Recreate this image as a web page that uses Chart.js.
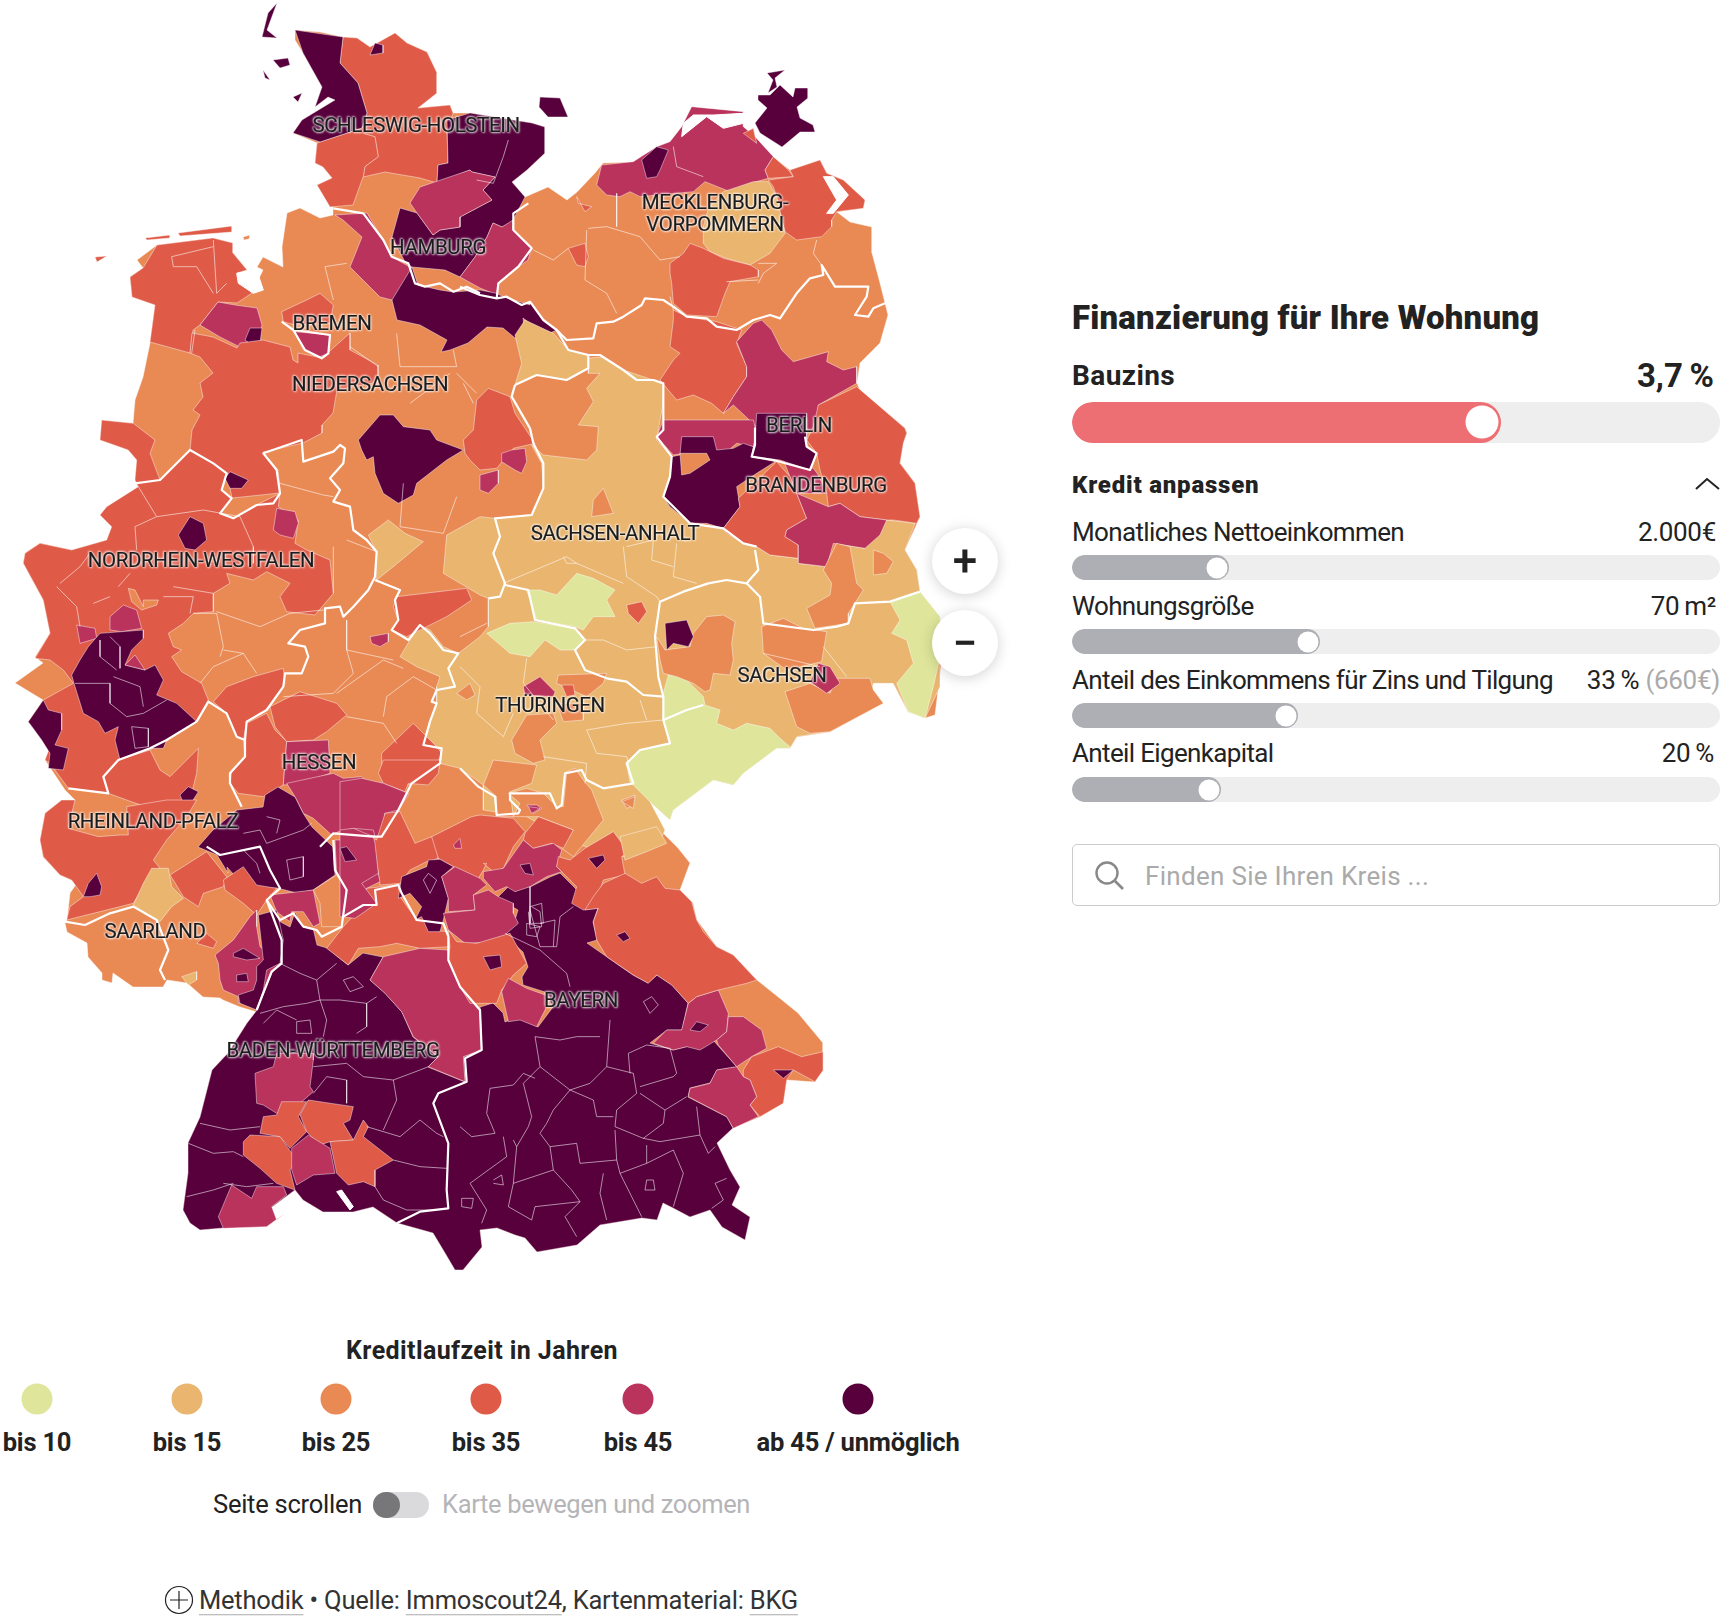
<!DOCTYPE html>
<html lang="de">
<head>
<meta charset="utf-8">
<title>Finanzierung für Ihre Wohnung</title>
<script src="https://cdn.jsdelivr.net/npm/chart.js@4"></script>
<style>
  html, body { margin: 0; padding: 0; background: #fff; }
  body { position: relative; width: 1724px; height: 1621px; overflow: hidden; font-family: Roboto, sans-serif; color: #222; }
  #mapBox { position: absolute; left: 0; top: 0; width: 950px; height: 1290px; }
  .t { position: absolute; white-space: nowrap; line-height: 1; transform: translateY(-50%); }
  .c { transform: translate(-50%, -50%); }
  .r { transform: translate(-100%, -50%); }
  .state { font-size: 20.5px; letter-spacing: -.4px; color: #1c1c1c; -webkit-text-stroke: .2px #1c1c1c; text-shadow: 0 0 2px rgba(255,255,255,.9), 0 0 3px rgba(255,255,255,.75), 1px 1px 2px rgba(255,255,255,.55), -1px -1px 2px rgba(255,255,255,.55); }
  .track { position: absolute; left: 1072px; width: 648px; background: #eee; border-radius: 14px; overflow: hidden; }
  .fill { position: absolute; left: 0; top: 0; bottom: 0; border-radius: 14px; }
  .knob { position: absolute; background: #fff; border-radius: 50%; transform: translate(-50%, -50%); }
  .dot { position: absolute; width: 31px; height: 31px; border-radius: 50%; transform: translate(-50%, -50%); }
  .zoomBtn { position: absolute; width: 66px; height: 66px; border-radius: 50%; background: #fff; box-shadow: 0 2px 14px rgba(0,0,0,.18); transform: translate(-50%, -50%); text-align: center; font-size: 44px; line-height: 66px; font-weight: 500; color: #222; }
  u { text-decoration-color: #aaa; text-underline-offset: 5px; text-decoration-thickness: 1px; }
</style>
</head>
<body>
<div id="mapBox"><canvas id="map"></canvas></div>
<div id="ui"></div>
<script>
// Legend classes
const classLabels = ['bis 10', 'bis 15', 'bis 25', 'bis 35', 'bis 45', 'ab 45 / unmöglich'];
const classColors = ['#DFE69B', '#E9B56F', '#E98A55', '#DF5B48', '#BA335C', '#57003C'];

// Map outlines. Each tracing sheet has its own origin and scale.
const sheets = {
  O: [0, 0, 1], A: [0, 0, 3], B: [460, 0, 3], C: [0, 420, 3], D: [460, 420, 3],
  E: [100, 840, 3], F: [460, 840, 3], I: [0, 780, 3], J: [340, 760, 3]
};

const mainland = [295,30,320,32,343,37,357,38,370,47,395,33,407,43,427,52,437,73,437,93,418,108,450,105,453,113,470,113,532,123,545,127,545,153,527,170,512,182,525,197,548,187,567,200,577,192,595,173,603,163,633,162,657,147,670,142,682,127,692,107,713,112,743,112,743,127,755,137,773,157,790,170,820,160,827,173,843,180,865,200,863,208,837,212,850,222,872,227,872,253,880,283,888,315,880,343,860,363,857,383,860,390,880,407,905,428,907,433,903,443,900,463,915,483,920,517,905,550,917,570,920,592,940,617,943,650,935,715,925,718,908,712,893,683,873,683,873,690,883,703,830,732,797,737,790,748,777,748,743,773,733,785,713,780,673,810,670,820,650,802,660,830,678,848,690,863,680,890,693,903,697,920,717,947,733,955,757,980,782,1000,798,1013,823,1043,823,1070,815,1082,787,1080,783,1103,760,1117,733,1128,717,1143,730,1170,740,1187,732,1205,750,1217,745,1240,722,1227,710,1210,690,1217,673,1208,663,1203,657,1220,642,1218,600,1225,577,1245,537,1252,525,1238,515,1235,497,1228,480,1230,482,1247,463,1270,455,1270,445,1253,433,1233,397,1223,373,1207,353,1212,323,1212,303,1200,295,1190,272,1207,267,1225,223,1228,200,1230,190,1223,183,1210,188,1173,188,1143,200,1117,212,1070,228,1053,247,1023,257,1012,240,1007,223,1000,220,998,203,997,187,983,167,980,163,987,133,987,113,973,112,983,102,980,102,973,88,957,87,943,67,932,65,923,67,920,70,893,77,883,60,875,43,857,40,840,45,813,62,800,75,800,65,790,45,760,50,747,28,722,43,700,15,683,43,663,35,657,50,633,43,600,23,563,25,553,40,543,72,550,107,540,112,527,100,515,107,507,138,487,135,480,137,460,128,450,100,440,102,422,133,423,135,400,143,377,150,343,155,305,132,297,130,277,143,268,137,260,157,245,213,238,233,243,233,253,247,270,237,273,252,293,263,270,257,267,263,257,283,267,282,247,287,213,300,208,320,218,333,215,333,207,317,185,332,178,323,167,315,163,317,143,293,133,302,120,335,100,328,97,315,107,322,87,303,53,295,40];

const eastFrisia = [143,268,157,245,213,238,233,243,233,253,247,270,237,273,252,293,237,303,218,302,200,325,193,330,190,353,150,342,155,305,132,297,130,277];
const cloppenburg = [218,302,235,305,257,308,262,325,260,333,240,347,220,337,200,325];
const vechta = [245,340,250,328,262,328,260,343,252,345];
const osnabrueck = [192,333,213,337,237,348,240,343,263,340,290,347,293,360,298,363,298,353,322,358,350,333,350,350,378,365,378,382,337,390,333,413,322,425,322,433,303,443,263,452,278,470,280,493,232,498,227,473,213,463,190,450,192,430,200,415,193,410,203,397,200,383,213,373,200,357,190,353];
const bremenRing = [845,935,920,900,960,880,1000,915,990,970,885,975,850,965];
const delmenhorst = [885,995,990,1005,985,1060,960,1070,910,1050];
const stade = [335,215,367,213,383,240,392,257,410,267,413,283,392,300,380,297,360,277,350,267,362,237,343,220];
const harburg = [412,267,418,285,440,290,453,292,480,290,495,293,507,298,530,305,530,302,543,320,557,330,545,335,523,318,525,335,515,338,503,328,487,327,468,343,450,350,441,352,447,340,420,325,397,320,392,300];
const nordfriesland = [295,30,343,37,340,63,358,83,367,113,362,128,320,142,293,133,302,120,335,100,328,97,315,107,322,87,303,53];
const schleswig = [343,37,357,38,370,47,395,33,407,43,427,52,437,73,437,93,418,108,450,105,453,113,447,133,448,163,438,165,437,183,420,178,385,172,363,177,353,205,330,207,317,185,332,178,323,167,315,163,317,143,362,128,367,113,358,83,340,63];
const flensburg = [370,55,375,43,383,45,383,53];
const holstein = [392,237,400,208,417,213,433,235,440,230,460,227,460,217,492,200,483,190,495,177,472,172,470,170,437,183,438,165,448,163,447,120,470,113,532,123,545,127,545,153,527,170,512,182,525,197,512,222,502,227,493,223,487,237,475,257,460,277,445,270,412,267,405,262];
const stormarn = [420,187,470,170,472,172,495,177,483,190,492,200,460,217,460,227,440,230,433,235,417,213,410,203];
const lauenburg = [513,220,513,230,532,247,528,260,518,267,498,283,497,295,480,288,460,277,475,257,487,237,493,223,502,227];
const syltIsland = [277,3,268,13,262,37,277,38,267,30];
const foehrIsland = [273,60,288,58,290,65,280,68];
const amrumIsland = [263,70,270,80,265,78];
const pellworm = [293,97,302,93,298,102];
const fehmarn = [540,97,560,98,568,117,548,117,539,107];
const ruegenNorth = [785,70,767,73,773,80,768,93,777,87,775,78];
const ruegen = [758,95,770,95,780,85,793,97,795,88,808,88,808,98,797,107,800,118,813,125,815,132,800,132,782,147,760,133,755,123,767,108,758,100];
const frisianA = [95,257,107,256,97,262];
const frisianB = [145,238,170,235,170,238,147,240];
const frisianC = [178,233,232,226,232,232,180,236];
const frisianD = [243,237,250,235,249,239,244,240];

// North east
const mvNorth = [410,555,425,495,520,485,590,440,630,425,665,380,695,320,850,335,850,380,885,410,940,470,915,510,925,535,870,550,810,575,735,545,700,575,540,590,510,575,480,590,440,585];
const rostock = [545,480,590,440,625,450,600,510,590,530,560,535];
const stralsund = [850,400,880,385,890,430];
const greifswald = [915,510,940,470,985,510,1000,530,925,535];
const vorpommern = [925,540,1000,530,990,510,1080,480,1100,520,1150,540,1215,600,1210,625,1130,635,1115,660,1115,680,1085,710,1010,720,975,695,960,640,950,590,940,560];
const seenplatte = [790,575,880,545,925,545,950,590,975,700,930,760,870,795,800,775,750,755,730,730,730,680,745,625];
const schwerinCity = [350,590,355,610,395,620,375,635];
const ludwigslust = [325,745,375,730,385,770,375,800,350,795];
const prignitzEast = [630,790,670,760,690,730,730,745,790,775,870,795,895,810,895,830,810,845,795,880,770,950,680,945,640,910,635,850,630,820];
const havelland = [640,930,680,950,770,965,845,990,830,1030,860,1100,860,1130,820,1190,790,1240,755,1210,700,1185,650,1200,600,1140,640,1080,660,1060,630,1040,640,960];
const uckermark = [830,1025,880,970,905,960,935,990,965,1050,1000,1085,1105,1055,1100,1085,1150,1110,1190,1100,1190,1150,1075,1215,1070,1290,900,1290,820,1215,790,1240,820,1190,860,1130,860,1100];
const potsdamPink = [590,50,610,0,880,0,890,40,880,80,830,70,800,95,670,100,640,105];
const altmarkDark = [665,50,760,50,770,90,820,85,850,70,880,80,875,110,945,125,890,160,830,200,840,260,790,325,740,310,690,310,630,260,610,230,630,170,635,110,660,105];
const brandenburgCity = [660,100,740,100,750,120,690,160,665,165];
const berlin = [890,-20,1040,-20,1040,80,1070,100,1050,150,960,120,875,110,885,60];
const spreeNorth = [970,120,1060,145,1075,165,1100,220,1010,220,990,170];
const spreeWald = [1010,220,1105,260,1140,250,1200,290,1280,300,1260,345,1215,385,1120,370,1100,440,1015,430,1015,375,975,350,980,330,1040,295];
const teltow = [790,325,840,260,835,235,950,125,990,170,1010,220,1040,295,980,330,975,350,1015,375,1015,415,930,405,890,380,850,370,800,340];
const oderSpree = [1075,-45,1190,-100,1260,-40,1335,25,1340,40,1330,70,1320,130,1365,190,1380,290,1370,310,1300,300,1280,300,1200,290,1140,250,1105,260,1100,220,1080,150,1070,100,1040,60,1060,20];

// Central belt
const centralBelt = [215,75,245,130,250,205,215,285,105,295,60,290,-40,345,-50,460,60,525,85,535,85,620,60,650,-5,700,-50,680,-90,630,-120,615,-150,660,-180,710,-130,740,-60,770,-70,800,-70,850,-90,900,-110,975,-55,985,-60,1030,0,1045,70,1095,70,1170,200,1190,340,1270,490,1310,600,1265,615,1230,570,1145,640,1170,760,1080,820,1095,850,1060,950,985,990,985,1010,950,1110,935,1270,850,1235,810,1240,790,1300,790,1345,875,1395,895,1440,800,1440,590,1380,515,1370,450,1335,390,1365,310,1280,300,1215,385,1130,370,1100,440,1015,430,1015,415,930,405,890,380,850,370,790,325,690,310,610,230,630,170,635,110,590,60,600,0,610,-50,610,-110,580,-120,490,-150,425,-190,385,-185,385,-140,420,-140,380,-95,400,-55,355,15,415,20,410,90,380,120,250,105];
const gifhorn = [165,1005,195,960,280,1000,325,1050,385,1065,385,1105,320,1140,230,1125,165,1155,185,1090];
const boerdeOrange = [400,240,430,205,460,280,395,290];
const eichsfeldYellow = [1105,345,1165,300,1215,340,1270,365,1180,440,1130,480,1130,395];
const anhaltGreen = [200,510,240,510,290,525,350,460,400,475,465,510,440,540,465,590,400,590,370,630,345,620,230,600,220,570];
const kyffGreen = [80,640,150,610,220,605,345,625,375,660,345,690,300,690,255,660,210,710,150,700];
const erzGreen = [625,765,670,770,730,830,735,855,780,870,770,910,820,930,860,910,930,925,960,955,995,985,950,985,850,1060,820,1095,760,1080,640,1170,630,1200,570,1145,510,1085,500,1030,540,990,630,970,610,900,610,820];
const goerlitzGreen = [1290,545,1330,530,1380,515,1440,590,1445,690,1420,800,1395,895,1345,875,1310,790,1360,730,1340,660,1295,640,1320,600];
const leipzig = [590,650,615,690,690,680,700,640,740,590,790,585,825,605,815,670,820,720,810,765,760,760,750,810,735,815,700,790,650,770,610,760,600,720];
const leipzigCity = [615,610,680,600,700,650,685,680,640,670,620,690];
const halle = [500,555,545,545,560,575,535,610,505,580];
const meissen = [905,620,970,595,1030,625,1100,635,1085,725,980,750,910,700];
const pirna = [975,815,1050,790,1110,820,1130,775,1230,775,1240,810,1270,850,1110,935,1050,940,1010,920];
const dresden = [1075,730,1110,740,1140,790,1100,820,1050,785];
const elbeElster = [1090,450,1130,370,1170,380,1190,490,1210,510,1165,580,1165,610,1065,625,1040,565,1110,525,1115,490];
const cottbus = [1240,390,1270,400,1300,425,1280,460,1240,465];
const eichsfeldDot = [-10,820,30,790,45,825,20,840];
const saalfeld = [155,960,200,885,280,880,290,910,240,960,255,1020,220,1030,165,1000];
const erfurt = [190,800,240,770,285,815,280,830,195,825];
const weimar = [295,765,440,760,430,790,380,830,290,790];
const jena = [305,795,340,795,345,825,320,830];
const jenaSouth = [290,850,370,850,370,900,310,905];
const suhlPink = [205,1160,240,1165,215,1180];
const plauenOrange = [485,1145,525,1130,520,1165];

// Hesse, Thuringia south, Franconia north
const rhoenOrange = [430,75,460,0,590,15,575,70,510,95,520,170,470,170,470,110];
const kronach = [520,170,540,130,505,100,560,85,610,100,650,140,670,140,680,35,705,25,730,60,755,90,790,180,700,290,665,265,700,210,595,170];
const coburgPink = [560,135,590,135,605,145,580,160];
const hofOrange = [845,120,885,105,880,135,860,145];
const fulda = [115,40,130,0,300,0,295,40,265,75,205,70,195,95,130,70];
const hessenPink = [0,65,65,55,130,70,205,100,175,150,135,160,135,225,105,230,100,210,40,205,0,215];
const mainSpessart = [110,240,135,160,180,155,225,250,275,230,295,255,295,295,260,305,210,330,180,370,120,375,100,235];
const hassberge = [275,230,395,170,420,165,520,175,555,215,520,260,490,325,460,335,430,310,440,310,430,330,415,355,340,320,295,295];
const badKissingenHole = [340,255,360,235,365,265,345,265];
const lichtenfels = [555,220,595,170,700,210,670,265,635,250,580,265,550,240];
const bambergPink = [430,335,490,325,550,240,580,265,640,250,665,270,650,320,665,335,620,350,570,380,525,395,500,380,465,395,430,355];
const bambergCity = [540,315,570,310,580,345,555,340];
const bayreuth = [655,290,690,300,735,265,820,215,865,275,845,290,855,345,790,360,780,390,770,445,730,450,695,430,710,380,670,340,650,320];
const bayreuthCity = [745,295,790,285,795,300,770,325];
const wuerzburg = [175,415,185,350,260,320,265,300,300,298,340,320,305,350,325,415,310,480,300,515,265,515,245,470,225,480,245,440,210,400];
const schweinfurtPink = [305,350,345,320,420,355,440,375,400,405,405,450,325,455,325,415];
const steigerwald = [310,460,405,450,400,405,445,390,475,410,520,430,520,460,535,490,500,520,495,545,375,550,325,510];
const rhoenDark = [0,265,20,260,50,300,15,305];
const darmstadtPink = [0,210,40,205,100,230,105,250,115,340,65,370,110,430,45,475,0,470];

// Rhineland
const rheinland = [305,0,400,10,465,60,450,100,480,180,570,90,640,130,680,160,665,210,695,235,660,280,700,295,770,255,840,220,835,260,895,300,885,370,920,390,990,420,1000,520,945,585,860,575,840,530,870,490,800,455,760,480,680,460,690,490,640,520,640,575,580,580,550,610,505,640,520,680,545,690,515,710,545,755,605,790,625,840,590,905,500,960,450,990,355,1020,310,1070,325,1120,205,1105,150,1030,135,1020,150,980,85,905,130,840,220,790,190,750,150,720,105,715,150,640,130,540,70,430,75,400,120,370,215,390,320,360,335,320,300,285,320,260,415,200,405,180,410,120,385,90,300,60];
const ruhrOrange = [385,505,405,510,430,560,430,540,475,540,470,555,425,570,395,545];
const koeln = [300,640,430,630,430,655,395,690,375,735,435,750,465,735,490,780,470,825,530,850,590,905,500,960,490,985,450,985,360,1020,345,960,355,920,315,940,295,905,250,880,225,800,215,765,240,720,265,680];
const neussPink = [230,615,285,625,290,655,240,670];
const duesseldorfPink = [330,590,370,555,410,570,425,625,365,635,330,630];
const bonnPink = [375,735,405,705,435,750];
const trier = [85,905,130,840,145,870,185,880,185,930,165,975,205,985,190,1050,145,1045,150,1000,125,960];
const bielefeldDark = [675,175,690,155,745,180,725,205,690,205];
const muensterDark = [535,345,570,290,610,310,620,360,585,390,555,385];
const guetersloh = [830,265,885,275,895,310,880,355,840,345,820,330];
const hildesheimDark = [1075,60,1140,-15,1180,-15,1210,20,1290,30,1310,60,1390,90,1340,120,1250,190,1240,225,1195,250,1150,220,1125,160,1120,110,1100,120,1085,90];
const goslar = [1190,530,1400,505,1415,540,1340,590,1280,620,1220,650,1175,630,1195,600,1180,560];
const kasselPink = [1110,650,1165,640,1165,665,1140,680,1115,670];
const siegen = [680,800,760,770,850,745,855,790,800,870,740,905,735,960,710,950,680,880,640,845];
const vogelsberg = [810,860,900,815,1010,850,1040,885,980,935,940,960,860,965,825,920];
const giessen = [730,960,740,910,800,880,825,930,860,965,850,1095,790,1130,715,1120,690,1090,695,1050,735,1010];
const wetterauPink = [860,965,985,960,990,1060,900,1090,850,1095];
const mainKinzig = [860,1090,1000,1060,1030,1075,1085,1070,1110,1105,1150,1085,1225,1125,1195,1170,1145,1250,1015,1235,995,1245,940,1195,910,1180,885,1130];
const eisenach = [1145,1000,1240,910,1310,980,1325,1000,1290,1080,1220,1095,1145,1050];
const ahrweilerRed = [355,1020,450,990,480,1050,510,1070,595,985,590,1060,575,1120,555,1160,490,1170,450,1165,380,1140,325,1120,310,1070];
const mainzDark = [540,1125,565,1100,595,1115,570,1155,550,1150];
const peine = [15,100,10,60,40,30,50,-60,85,-95,150,-70,165,-20,225,70,160,85,110,145,60,150,30,120];
const salzgitter = [125,100,155,90,195,85,200,125,185,160,165,150,125,125];
const wolfenbuettel = [60,165,115,150,115,190,85,220,60,210];

// Palatinate, Saarland
const eifelRed = [120,180,135,100,185,60,225,60,205,145,295,170,360,165,385,165,380,80,500,60,590,60,560,110,500,180,460,240,480,265,430,320,400,370,200,420,210,380,250,350,215,300,180,285,130,230];
const pfalzRed = [510,285,620,215,680,290,670,320,610,340,595,380,550,350,520,300];
const saarYellow = [455,265,505,265,515,320,550,355,515,380,480,425,400,375,430,310];
const bitburgDark = [250,350,265,310,290,280,305,320,300,345,270,350];
const saarRedDot = [590,490,620,460,650,485,640,505];
const saarYellowDot = [545,590,590,575,590,600,565,615];

// South
const southDark = [257,1010,272,972,280,963,282,940,277,920,290,927,295,912,303,927,313,928,317,945,327,948,348,965,363,953,383,957,370,980,385,993,402,1012,413,1037,438,1057,428,1067,465,1082,463,1057,482,1050,480,1007,493,1003,503,1013,505,1022,518,1017,538,1027,553,1007,545,992,523,985,522,977,528,967,523,952,510,940,505,933,515,920,518,910,497,898,510,885,530,887,550,877,560,873,577,890,575,903,598,908,593,922,597,940,587,943,607,957,633,975,648,983,657,975,672,985,688,1003,682,1030,667,1030,650,1043,673,1050,713,1040,737,1067,717,1070,710,1083,690,1088,688,1097,727,1117,733,1128,717,1143,730,1170,740,1187,732,1205,750,1217,745,1240,722,1227,710,1210,690,1217,673,1208,663,1203,657,1220,642,1218,600,1225,577,1245,537,1252,525,1238,515,1235,497,1228,480,1230,482,1247,463,1270,455,1270,445,1253,433,1233,397,1223,373,1207,353,1212,323,1212,303,1200,295,1190,272,1207,267,1225,223,1228,200,1230,190,1223,183,1210,188,1173,188,1143,200,1117,212,1070,228,1053,247,1023];
const rheinMainDark = [198,847,213,830,237,810,263,807,265,795,278,787,295,797,303,813,312,827,333,847,335,875,313,890,297,893,277,888,257,888,243,885,227,867,228,873,217,855];
const odenwaldRed = [370,120,430,80,470,135,530,145,500,180,470,225,430,190,375,150];
const odenwaldPink = [510,165,640,150,660,250,640,260,610,215,575,215,570,245,530,215];
const tauberOrange = [640,150,710,105,740,150,725,260,665,260,660,190];
const mosbachPink = [705,0,820,0,830,80,840,125,800,145,790,195,730,230,740,150,710,100];
const mosbachDark = [725,25,760,65,730,60];
const heilbronn = [800,145,895,135,900,170,950,240,970,225,985,270,1045,275,1050,320,960,325,890,310,840,320,775,325,745,375,680,325,730,260,790,195];
const ansbachPink = [810,420,850,350,960,325,1045,330,1080,440,1140,510,1145,630,1090,650,1095,725,985,680,1015,650,940,590,905,515,855,460];
const rastattPink = [345,345,400,300,450,230,470,210,470,260,480,320,540,370,515,400,490,460,415,490,415,470,370,450,360,420,355,370];
const karlsruheDark = [400,340,430,325,480,355,440,360,400,350];
const pforzheimDark = [410,405,440,400,445,425,410,425];
const rhineDark = [475,225,530,210,550,300,540,370,500,390,490,450,470,510,420,490,415,465,460,450,470,420,470,380,490,360];
const nuernbergRed = [1045,270,1070,305,1130,310,1230,280,1280,370,1240,405,1205,450,1190,490,1110,490,1080,440,1045,360,1050,320];
const nuernbergHole = [1150,350,1200,345,1205,380,1170,390];
const roth = [1205,455,1225,415,1280,445,1350,470,1335,510,1310,560,1260,540,1225,545];
const calwPink = [465,700,520,680,530,640,640,640,640,660,630,740,640,755,600,790,530,820,490,795,470,790];
const alb1 = [480,880,490,830,530,825,545,785,620,785,595,830,620,875,570,925,540,890];
const alb2 = [600,825,625,780,760,800,750,840,730,850,760,900,690,905,660,915,620,875];
const alb3 = [690,905,760,900,790,840,805,860,790,890,880,960,825,990,825,1040,790,1025,745,1035,710,1000];
const alb4 = [430,905,450,885,540,890,590,960,570,990,585,1050,530,1030,480,985,430,945];
const sigmaringenPink = [575,925,625,885,690,925,705,1000,640,1005,590,1035,575,990];
const konstanzPink = [355,1130,395,1035,455,1075,470,1040,550,1040,560,1065,515,1100,530,1140,555,1120,500,1160,370,1165];
const oberpfalzPink = [580,610,620,570,665,570,685,490,710,470,775,450,805,520,800,575,770,600,720,630,680,620,640,630];
const regensburgHole = [690,570,710,545,745,555,720,575];
const strauPink = [770,600,800,575,805,530,850,530,905,570,920,625,875,650,830,680,775,615];
const freyung = [850,690,875,650,955,620,1025,650,1090,635,1090,690,1065,725,1000,690,980,720,970,790,900,830,870,795,890,770,870,720,850,710];
const passauHole = [940,690,1000,690,970,715];
const rottalPink = [685,770,690,745,750,730,770,690,830,680,850,710,870,720,890,770,870,795,895,830,820,865,800,830];
const amberg = [430,130,495,100,545,130,590,110,615,145,660,150,695,185,710,240,730,275,770,320,820,345,890,420,860,430,775,450,710,470,685,490,635,435,590,405,565,430,520,405,440,350,410,300,400,245,415,205,375,210,400,170];
const ambergHole = [470,285,495,275,510,295,490,305];
const bayreuthNorth = [495,60,560,35,620,10,590,-40,480,-10];
const waterLagoon = [1090,530,1130,600,1100,640,1120,640,1165,585,1120,530];
const waterDarss = [670,370,665,410,740,350,790,385,850,370,850,340,760,345,700,345];
const lakeConstance = [710,1055,725,1050,760,1100,750,1110];
const waterJade = [710,820,770,810,790,870,760,880,715,850];

// Thin district lines
const districtLines = [
  ['E',540,370,600,400,650,420,710,370],['E',650,420,660,480,680,540,670,590],['E',660,480,720,480,800,490,830,470],['E',800,490,800,560,770,580],
  ['E',480,520,550,500,620,490,660,480],['E',640,680,740,670,790,710,880,720,960,690,985,680],['E',640,760,680,710,740,720,740,790],['E',880,720,890,780,850,870],
  ['E',800,860,900,890,960,840,1010,880,1030,890],['E',300,850,390,870,480,860],['E',265,910,340,940,400,935,430,950],['E',260,1070,340,1050,400,1030],
  ['E',370,1030,440,1040,520,1030],['E',825,1040,850,1080,920,1110,1010,1110],['E',880,960,960,980,1040,985],['E',730,420,760,410,790,440,750,455,730,420],['E',590,545,630,540,635,580,590,580,590,545],
  ['E',490,550,530,510,590,540],['E',970,120,985,100,1010,120,990,160,970,120],['E',560,60,610,50,610,110,570,120,560,60],['E',430,30,470,70,480,100],
  ['F',225,590,240,680,330,750,390,730,440,680,450,540],['F',225,590,300,600,350,590,420,590],['F',190,730,240,680],['F',190,730,215,830,205,860,170,920],
  ['F',90,745,80,820,105,880,35,890,0,860],['F',90,745,160,735,190,700,225,715],['F',330,750,280,810,260,850,240,880,270,920],['F',330,750,400,780,410,830,460,830],
  ['F',440,680,520,700,530,760,470,810,465,860,550,895,610,850,615,810,540,760],['F',505,640,560,615,630,625,650,700,640,710,540,740],['F',505,640,510,700],['F',615,810,680,770],
  ['F',550,895,600,905,720,885,710,800],['F',720,885,745,940,765,920],['F',270,920,350,910,360,970,470,960,480,1000,560,970,560,915],['F',470,960,465,870],
  ['F',270,920,280,990,160,1030,145,1100,215,1140],['F',160,900,170,920,160,1030],['F',280,990,335,1050,360,1085,315,1130,350,1190],['F',360,1085,225,1100,215,1140],
  ['F',430,1000,420,1060,440,1140],['F',480,1000,545,1130],['F',560,970,640,930,670,1000,640,1100],['F',800,1015,765,1030,790,1080,755,1105],['F',30,1030,80,1110,65,1150],
  ['F',30,1030,140,950,130,890],['F',210,210,240,320,290,320],['F',210,140,210,250],['F',290,320,300,230,340,200],['F',135,280,240,330,320,400,330,440],
  ['F',550,485,575,470,595,495,570,520,550,485],['F',560,1020,580,1020,585,1050,555,1050,560,1020],['F',100,1020,125,1005,130,1035,100,1030],['F',5,1075,40,1075,35,1105,5,1100,5,1075],
  ['F',215,200,240,215,245,260,210,265,205,215],['F',240,250,285,240,280,320],['J',570,440,605,430,610,490,570,490,570,440],['J',560,490,600,500,590,530,560,525,560,490],
  ['A',515,770,640,740],['A',515,770,520,800,590,800,640,880],['A',640,720,650,880,680,850],['A',575,1060,585,990],['A',1000,900,975,800,1040,790],['A',1050,1040,1135,1100],
  ['A',1190,1000,1200,1100,1370,1100,1360,1050],['A',1370,1120,1430,1180],['A',1230,1210,1350,1120],['A',1125,410,1135,470,1095,500,1090,530],['A',1090,400,1125,410],
  ['C',180,490,240,440,270,400],['C',355,500,390,460],['C',170,500,230,560,240,620],['C',280,550,330,530],['C',520,500,640,520],['C',490,530,580,530,570,580],
  ['C',580,580,650,580,670,680,660,710],['C',650,575,780,620,870,580,970,570],['C',670,690,730,700,770,760],['C',600,790,640,740,730,700],['C',1000,520,1000,380],['C',1040,360,1130,395],
  ['C',1040,890,1150,910,1190,970],['C',1010,820,1150,720,1210,745],['C',1150,890,1160,830,1240,770,1310,810],['C',1040,690,1060,760,1000,820,850,830],['C',1040,600,1040,690,1180,720],
  ['C',840,190,970,225,1000,230],['C',1210,190,1200,320,1330,340,1370,230],['C',415,200,470,290,405,320,410,390],['C',470,290,610,270],['C',610,270,720,290,760,380,760,430],
  ['C',300,660,300,710,350,750],['C',330,650,360,680,360,745],['C',340,770,420,800,430,860],['C',225,790,330,790,330,850,380,890,430,880,500,840],['C',395,920,445,925,445,980,405,985,395,920],
  ['C',730,1240,780,1230,800,1270,910,1230,935,1210],['C',800,1190,840,1200,830,1240],
  ['D',130,490,320,410,350,430,490,490],['D',490,380,500,470,590,530,600,545],['D',500,380,580,360],['D',640,470,710,490],['D',650,370,640,470],['D',0,650,80,610],
  ['D',375,660,430,660,500,690,590,680],['D',200,715,190,790,280,900],['D',50,880,130,950,160,880],['D',380,930,410,1000,500,1010,515,1080],['D',380,930,500,910,610,900],['D',540,840,560,900],
  ['D',250,1010,380,1030,375,1090],['D',0,740,60,800,50,880],['D',1090,680,1160,770],['D',910,700,1080,740],['D',580,360,575,420,640,440],['D',310,410,320,430,350,430],
  ['B',385,685,440,680,540,710,600,780,660,770],['B',470,580,470,680],['B',380,690,375,840,440,880,470,940],['B',640,930,630,890],['B',220,750,280,780,325,745],['B',895,790,950,790,910,820,895,850],
  ['B',800,845,895,840],['B',1085,795,1060,760,1070,720],['B',640,440,650,500,730,530],['B',10,1150,40,1210],['B',50,540,100,550,130,470,145,420]
];

// Thick state borders
const stateBorders = [
  ['C',405,190,480,180,570,90,640,130,680,160,665,210,695,235,660,280,700,295,770,255,820,250,840,220,830,150,790,100,905,60,910,125,1000,95,1020,75,1035,85,1030,130,990,175,1020,210,1000,245,1050,260,1060,330,1100,360,1130,395,1125,470,1105,510,1060,560,1030,590,1020,560,975,565,975,610,900,630,865,670,915,680,925,710,905,760,855,760,850,800,800,870,740,905,735,960,735,1010,690,1060,690,1090,725,1160],
  ['C',590,905,625,845,680,880,710,950,735,960],
  ['C',590,905,500,960,450,985,355,1020,310,1070,325,1120,205,1105],
  ['C',1125,480,1200,510,1185,540,1195,600,1175,630,1225,660,1260,615,1290,640,1330,690,1375,700,1345,745,1365,800,1310,810,1295,845,1310,850,1290,905,1270,975,1325,985,1320,1030,1235,1090,1195,1170,1145,1250,1120,1250,1000,1240,960,1280],
  ['A',1000,625,1090,640,1150,720,1175,770,1225,790,1245,850,1275,860,1320,850,1360,875,1400,860,1440,880],
  ['B',0,860,60,885,110,895,140,890,185,915,210,905,250,960,290,990,320,1020,400,1015,410,970,460,965,490,950,545,915,555,895,610,900,640,920,680,950,740,955,770,980,830,990,880,960,930,945,960,955,1010,880,1050,835,1090,825,1085,795,1125,860,1190,860,1225,860,1220,890,1185,945,1225,950,1240,925,1275,910],
  ['B',110,895,115,850,175,800,215,745,160,690,160,640,205,610],
  ['B',290,990,325,1050,385,1065,420,1065,490,1110,530,1140,580,1140,610,1150,610,1290,590,1310,635,1370,630,1430,610,1490,690,1570,790,1585,850,1630,890,1640],
  ['B',165,1155,230,1125,320,1140,385,1105,385,1065],
  ['B',165,1155,155,1190,210,1285],
  ['D',210,25,220,70,250,130,250,205,215,285,105,295,120,350,100,400,135,490,120,530,85,535],
  ['D',135,495,205,510,225,600,345,625,375,660,345,690,375,750,440,775,500,785,550,825,610,830,595,770,585,650,600,545,670,515,745,490,800,480,860,490,895,450,885,390],
  ['D',860,490,900,530,910,610,1060,630,1130,620,1165,610,1185,550,1290,545,1380,515],
  ['D',610,830,610,900,630,970,540,990,500,1030,520,1090,430,1105,380,1080,365,1050,315,1060,305,1155,290,1165,270,1120,150,1120,150,1140,180,1170,175,1180,110,1185,105,1130,55,1100,0,1045],
  ['D',610,900,680,870,730,855],
  ['D',885,25,885,75,875,110,940,120,1050,150,1070,100,1040,80,1035,50],
  ['E',320,20,360,45,480,20,510,90,540,145,500,180,540,240,580,220,610,260,650,270,665,290,725,260,740,150,705,90,700,0],
  ['E',730,230,790,195,830,195,825,150,895,135,905,160,950,240,1030,250,1045,290,1045,360,1080,440,1140,510,1145,630,1095,655,1100,725,1015,760,1000,790,1045,910,1040,1050,1045,1105,960,1115,890,1150],
  ['E',500,180,545,300,545,370,515,395,470,510],
  ['I',195,425,255,435,330,400,400,380,470,420,505,510,480,570,495,600],
  ['A',845,965,880,990,915,1050,965,1075,985,1060,990,1005,885,990]
];

// sheet, class index, outline; later rows lie on top of earlier ones
const regions = [
  ['O',2,mainland],
  ['O',3,eastFrisia],['O',4,cloppenburg],['O',5,vechta],['O',3,osnabrueck],['A',3,bremenRing],['A',4,delmenhorst],['O',4,stade],['O',3,schleswig],['O',5,nordfriesland],['O',5,flensburg],
  ['O',5,holstein],['O',4,stormarn],['O',4,lauenburg],['O',5,harburg],
  ['O',5,syltIsland],['O',5,foehrIsland],['O',5,amrumIsland],['O',5,pellworm],['O',5,fehmarn],['O',5,ruegenNorth],['O',5,ruegen],['O',3,frisianA],['O',3,frisianB],['O',3,frisianC],['O',2,frisianD],
  ['B',4,mvNorth],['B',5,rostock],['B',3,stralsund],['B',3,greifswald],['B',3,vorpommern],['B',1,seenplatte],['B',3,schwerinCity],['B',3,ludwigslust],['B',3,prignitzEast],['B',3,havelland],
  ['D',1,centralBelt],['B',1,gifhorn],['D',2,boerdeOrange],['C',1,eichsfeldYellow],
  ['B',4,uckermark],['D',4,potsdamPink],['D',3,oderSpree],['D',5,altmarkDark],['D',2,brandenburgCity],['D',4,spreeNorth],['D',3,teltow],['D',4,spreeWald],['D',5,berlin],
  ['D',0,anhaltGreen],['D',0,kyffGreen],['D',0,erzGreen],['D',0,goerlitzGreen],['D',2,leipzig],['D',5,leipzigCity],['D',3,halle],['D',2,meissen],['D',2,pirna],['D',4,dresden],['D',2,elbeElster],['D',2,cottbus],
  ['D',2,eichsfeldDot],['D',2,saalfeld],['D',4,erfurt],['D',2,weimar],['D',3,jena],['D',2,jenaSouth],
  ['C',3,rheinland],['C',2,ruhrOrange],['C',4,neussPink],['C',4,duesseldorfPink],['C',5,koeln],['C',4,bonnPink],['C',5,trier],['C',5,bielefeldDark],['C',5,muensterDark],['C',4,guetersloh],['C',5,hildesheimDark],
  ['C',3,goslar],['C',4,kasselPink],['C',3,siegen],['C',3,vogelsberg],['C',3,giessen],['C',4,wetterauPink],['C',4,mainKinzig],['C',3,eisenach],['C',3,ahrweilerRed],['C',5,mainzDark],['D',3,peine],['D',4,salzgitter],['D',4,wolfenbuettel],
  ['I',3,eifelRed],['I',3,pfalzRed],['I',1,saarYellow],['I',5,bitburgDark],['I',3,saarRedDot],['I',1,saarYellowDot],
  ['J',2,rhoenOrange],['J',2,kronach],['J',4,coburgPink],['J',2,hofOrange],['D',4,suhlPink],['D',2,plauenOrange],
  ['J',3,fulda],['J',4,hessenPink],['J',3,mainSpessart],['J',3,hassberge],['J',4,badKissingenHole],['J',3,lichtenfels],
  ['O',5,southDark],['O',5,rheinMainDark],['E',3,odenwaldRed],['E',4,odenwaldPink],['E',2,tauberOrange],['E',4,mosbachPink],['E',5,mosbachDark],['E',3,heilbronn],
  ['J',4,darmstadtPink],['J',5,rhoenDark],['J',4,bambergPink],['J',5,bambergCity],['J',3,bayreuth],['J',5,bayreuthCity],['J',5,wuerzburg],['J',4,schweinfurtPink],['J',4,steigerwald],
  ['E',4,ansbachPink],['E',4,rastattPink],['E',5,karlsruheDark],['E',5,pforzheimDark],['E',5,rhineDark],['E',3,nuernbergRed],['E',5,nuernbergHole],['E',4,roth],
  ['E',4,calwPink],['E',3,alb1],['E',3,alb2],['E',3,alb3],['E',3,alb4],['E',4,sigmaringenPink],['E',4,konstanzPink],
  ['F',4,oberpfalzPink],['F',5,regensburgHole],['F',4,strauPink],['F',3,freyung],['F',5,passauHole],['F',4,rottalPink],['F',3,amberg],['F',5,ambergHole],['F',1,bayreuthNorth]
];
const waterShapes = [['B',waterLagoon],['B',waterDarss],['E',lakeConstance],['A',waterJade]];

function toPoints(sheet, flat) {
  const [ox, oy, k] = sheets[sheet];
  const points = [];
  for (let i = 0; i < flat.length; i += 2) {
    points.push({x: ox + flat[i] / k, y: oy + flat[i + 1] / k});
  }
  return points;
}

let datasets = [];
regions.forEach(function (r) {
  const points = toPoints(r[0], r[2]);
  points.push(points[0]);
  datasets.push({data: points, fill: 'shape', backgroundColor: classColors[r[1]], borderColor: 'rgba(255,255,255,0.55)', borderWidth: 0.8});
});
waterShapes.forEach(function (w) {
  const points = toPoints(w[0], w[1]);
  points.push(points[0]);
  datasets.push({data: points, fill: 'shape', backgroundColor: '#fff', borderColor: '#fff', borderWidth: 1});
});
districtLines.forEach(function (l) {
  datasets.push({data: toPoints(l[0], l.slice(1)), fill: false, borderColor: 'rgba(255,255,255,0.55)', borderWidth: 1});
});
stateBorders.forEach(function (l) {
  datasets.push({data: toPoints(l[0], l.slice(1)), fill: false, borderColor: '#fff', borderWidth: 2.2});
});
// Chart.js paints the first dataset last
datasets = datasets.reverse();

new Chart(document.getElementById('map'), {
  type: 'line',
  data: {datasets: datasets},
  options: {
    responsive: true,
    maintainAspectRatio: false,
    animation: false,
    events: [],
    elements: {point: {radius: 0}, line: {tension: 0, borderJoinStyle: 'round'}},
    layout: {padding: 0},
    plugins: {legend: {display: false}, tooltip: {enabled: false}},
    scales: {
      x: {type: 'linear', min: 0, max: 950, display: false},
      y: {type: 'linear', min: 0, max: 1290, reverse: true, display: false}
    }
  }
});

// Everything around the map
const stateNames = ['SCHLESWIG-HOLSTEIN', 'MECKLENBURG-', 'VORPOMMERN', 'HAMBURG', 'BREMEN', 'NIEDERSACHSEN', 'BERLIN', 'BRANDENBURG', 'SACHSEN-ANHALT', 'NORDRHEIN-WESTFALEN', 'SACHSEN', 'THÜRINGEN', 'HESSEN', 'RHEINLAND-PFALZ', 'SAARLAND', 'BAYERN', 'BADEN-WÜRTTEMBERG'];
const stateSpots = [[416,125],[715,202],[715,224],[438,247],[332,323],[370,384],[799,425],[816,485],[615,533],[201,560],[782,675],[550,705],[319,762],[153,821],[155,931],[581,1000],[333,1050]];
const sliderNames = ['Monatliches Nettoeinkommen', 'Wohnungsgröße', 'Anteil des Einkommens für Zins und Tilgung', 'Anteil Eigenkapital'];
const sliderValues = ['2.000€', '70&#8201;m²', '33&#8201;% <span style="color:#aaa">(660€)</span>', '20&#8201;%'];
const sliderValueEnds = [1716, 1716, 1720, 1714];
const sliderFills = [157, 248, 226, 149];
const sliderRows = [[532,555],[606,629],[680,703],[753,777]];
const legendSpots = [37, 187, 336, 486, 638, 858];

const ui = document.getElementById('ui');
function add(html) { ui.insertAdjacentHTML('beforeend', html); }
function text(str, x, y, cls, style) { add('<div class="t ' + cls + '" style="left:' + x + 'px;top:' + y + 'px;' + style + '">' + str + '</div>'); }

stateNames.forEach(function (name, i) {
  text(name, stateSpots[i][0], stateSpots[i][1], 'c state', '');
});

text('Finanzierung für Ihre Wohnung', 1072, 317, '', 'font-size:33px;font-weight:900;letter-spacing:.2px');
text('Bauzins', 1072, 376, '', 'font-size:28px;font-weight:700;letter-spacing:.4px');
text('3,7&#8201;%', 1714, 375, 'r', 'font-size:33px;font-weight:700');
add('<div class="track" style="top:402px;height:41px;border-radius:21px"><div class="fill" style="width:429px;background:#EE6F73;border-radius:21px"></div></div>');
add('<div class="knob" style="left:1482px;top:422px;width:33px;height:33px"></div>');
text('Kredit anpassen', 1072, 485, '', 'font-size:24px;font-weight:900;letter-spacing:.8px');
add('<svg style="position:absolute;left:1695px;top:477px" width="25" height="14"><path d="M1 12 L12 2 L24 12" fill="none" stroke="#222" stroke-width="2"/></svg>');

sliderNames.forEach(function (name, i) {
  const row = sliderRows[i];
  text(name, 1072, row[0], '', 'font-size:26px;letter-spacing:-.65px');
  text(sliderValues[i], sliderValueEnds[i], row[0], 'r', 'font-size:26px;letter-spacing:-.3px');
  add('<div class="track" style="top:' + row[1] + 'px;height:25px"><div class="fill" style="width:' + sliderFills[i] + 'px;background:#AEAFB4"></div></div>');
  add('<div class="knob" style="left:' + (1072 + sliderFills[i] - 12) + 'px;top:' + (row[1] + 12.5) + 'px;width:21px;height:21px"></div>');
});

add('<div style="position:absolute;left:1072px;top:844px;width:646px;height:60px;border:1px solid #ccc;border-radius:5px"></div>');
add('<svg style="position:absolute;left:1094px;top:860px" width="32" height="32"><circle cx="13" cy="13" r="10.5" fill="none" stroke="#888" stroke-width="2.4"/><path d="M21 21 L29 29" stroke="#888" stroke-width="2.6"/></svg>');
text('Finden Sie Ihren Kreis ...', 1145, 876, '', 'font-size:26px;color:#aaa;letter-spacing:.3px');

add('<div class="zoomBtn" style="left:965px;top:561px">+</div>');
add('<div class="zoomBtn" style="left:965px;top:643px">−</div>');

text('Kreditlaufzeit in Jahren', 482, 1350, 'c', 'font-size:25px;font-weight:700;letter-spacing:.4px');
classLabels.forEach(function (label, i) {
  add('<div class="dot" style="left:' + legendSpots[i] + 'px;top:1399px;background:' + classColors[i] + '"></div>');
  text(label, legendSpots[i], 1443, 'c', 'font-size:25.5px;font-weight:700;letter-spacing:-.2px');
});

text('Seite scrollen', 213, 1505, '', 'font-size:25.5px;letter-spacing:-.25px');
add('<div style="position:absolute;left:373px;top:1492px;width:56px;height:26px;border-radius:13px;background:#DADADD"></div>');
add('<div style="position:absolute;left:373px;top:1492px;width:27px;height:26px;border-radius:13px;background:#77777A"></div>');
text('Karte bewegen und zoomen', 442, 1505, '', 'font-size:25.5px;color:#b5b5b8;letter-spacing:-.35px');

add('<svg style="position:absolute;left:164px;top:1585px" width="30" height="30"><circle cx="15" cy="15" r="13.5" fill="none" stroke="#222" stroke-width="1.2"/><path d="M15 6 V24 M6 15 H24" stroke="#222" stroke-width="1.2"/></svg>');
text('<u>Methodik</u> • Quelle: <u>Immoscout24</u>, Kartenmaterial: <u>BKG</u>', 199, 1601, '', 'font-size:25.5px;color:#333;letter-spacing:-.22px');
</script>
</body>
</html>
